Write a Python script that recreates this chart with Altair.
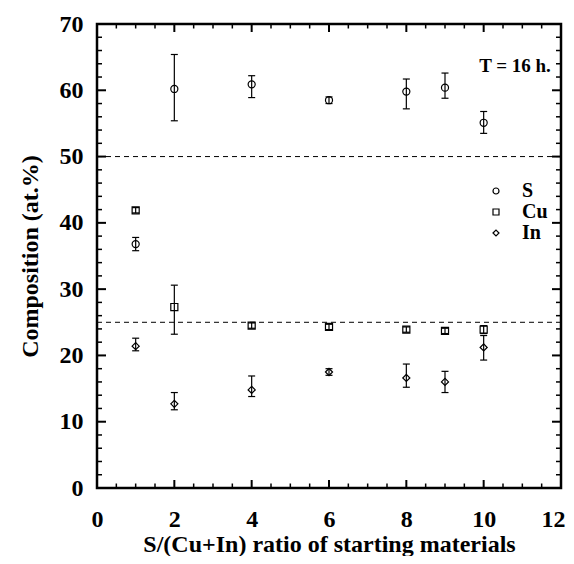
import altair as alt
import pandas as pd

ratio = [1, 2, 4, 6, 8, 9, 10]
s_val = [36.8, 60.2, 60.9, 58.5, 59.8, 60.4, 55.1]
s_lo = [35.8, 55.4, 58.9, 58.0, 57.2, 58.8, 53.5]
s_hi = [37.8, 65.4, 62.2, 59.0, 61.7, 62.6, 56.8]
cu_val = [41.9, 27.3, 24.5, 24.3, 23.9, 23.7, 23.9]
cu_lo = [41.5, 23.2, 24.1, 23.9, 23.5, 23.3, 23.3]
cu_hi = [42.3, 30.6, 24.9, 24.7, 24.3, 24.1, 24.5]
in_val = [21.4, 12.7, 14.8, 17.5, 16.6, 16.0, 21.2]
in_lo = [20.7, 11.8, 13.8, 17.0, 15.2, 14.4, 19.3]
in_hi = [22.6, 14.4, 16.9, 18.0, 18.7, 17.6, 23.0]
series_names = ["S", "Cu", "In"]
ref_levels = [25, 50]
x_major = [0, 2, 4, 6, 8, 10, 12]
x_minor = [0.5, 1, 1.5, 2.5, 3, 3.5, 4.5, 5, 5.5, 6.5, 7, 7.5, 8.5, 9, 9.5, 10.5, 11, 11.5]
y_major = [0, 10, 20, 30, 40, 50, 60, 70]
y_minor = [v for v in range(0, 71, 2) if v % 10 != 0]
annotation = "T = 16 h."

rows = []
for name, vals, los, his in [("S", s_val, s_lo, s_hi), ("Cu", cu_val, cu_lo, cu_hi), ("In", in_val, in_lo, in_hi)]:
    for x, v, lo, hi in zip(ratio, vals, los, his):
        rows.append({"series": name, "ratio": x, "val": v, "lo": lo, "hi": hi})
df = pd.DataFrame(rows)

W = 464
H = 464
FONT = "Liberation Serif"

xs = alt.Scale(domain=[0, 12], nice=False, zero=False)
ys = alt.Scale(domain=[0, 70], nice=False, zero=False)

x_axis = alt.Axis(values=x_major, format="d", ticks=False, domain=False, grid=False,
                  labelFont=FONT, labelFontSize=24, labelFontWeight="bold", labelColor="black",
                  labelPadding=19, title="S/(Cu+In) ratio of starting materials",
                  labelOffset={"condition": {"test": "datum.value == 12", "value": -8}, "value": 0},
                  titleFont=FONT, titleFontSize=24, titleFontWeight="bold", titleColor="black",
                  titlePadding=1, labelFlush=False)
y_axis = alt.Axis(values=y_major, format="d", ticks=False, domain=False, grid=False,
                  labelFont=FONT, labelFontSize=24, labelFontWeight="bold", labelColor="black",
                  labelPadding=14, title="Composition (at.%)",
                  titleFont=FONT, titleFontSize=24, titleFontWeight="bold", titleColor="black",
                  titlePadding=17, labelFlush=False)

base = alt.Chart(df)

points = base.mark_point(filled=False, size=50, strokeWidth=1.2, color="black", opacity=1).encode(
    x=alt.X("ratio:Q", scale=xs, axis=x_axis),
    y=alt.Y("val:Q", scale=ys, axis=y_axis),
    shape=alt.Shape("series:N", scale=alt.Scale(domain=series_names, range=["circle", "square", "diamond"]),
                    legend=alt.Legend(title=None, orient="none", legendX=389, legendY=157,
                                      labelFont=FONT, labelFontSize=20, labelFontWeight="bold",
                                      labelColor="black", symbolSize=36, symbolStrokeColor="black",
                                      symbolFillColor="transparent", symbolStrokeWidth=1.2,
                                      labelOffset=16, rowPadding=1, padding=0)),
)

err = base.mark_rule(strokeWidth=1.2, color="black").encode(
    x=alt.X("ratio:Q", scale=xs), y=alt.Y("lo:Q", scale=ys), y2="hi:Q")
cap_lo = base.mark_tick(orient="horizontal", size=7, thickness=1.2, color="black", opacity=1).encode(
    x=alt.X("ratio:Q", scale=xs), y=alt.Y("lo:Q", scale=ys))
cap_hi = base.mark_tick(orient="horizontal", size=7, thickness=1.2, color="black", opacity=1).encode(
    x=alt.X("ratio:Q", scale=xs), y=alt.Y("hi:Q", scale=ys))

refs = alt.Chart(pd.DataFrame({"lvl": ref_levels})).mark_rule(
    strokeWidth=1, color="black", strokeDash=[5, 4]).encode(y=alt.Y("lvl:Q", scale=ys))

def xticks(vals, length, width):
    d = alt.Chart(pd.DataFrame({"t": vals}))
    bottom = d.mark_rule(color="black", strokeWidth=width).encode(
        x=alt.X("t:Q", scale=xs), y=alt.value(H), y2=alt.value(H - length))
    top = d.mark_rule(color="black", strokeWidth=width).encode(
        x=alt.X("t:Q", scale=xs), y=alt.value(0), y2=alt.value(length))
    return [bottom, top]

def yticks(vals, length, width):
    d = alt.Chart(pd.DataFrame({"t": vals}))
    left = d.mark_rule(color="black", strokeWidth=width).encode(
        y=alt.Y("t:Q", scale=ys), x=alt.value(0), x2=alt.value(length))
    right = d.mark_rule(color="black", strokeWidth=width).encode(
        y=alt.Y("t:Q", scale=ys), x=alt.value(W), x2=alt.value(W - length))
    return [left, right]

ann = alt.Chart(pd.DataFrame({"t": [annotation]})).mark_text(
    font=FONT, fontSize=19, fontWeight="bold", color="black", align="center", baseline="middle").encode(
    text="t:N", x=alt.value(418), y=alt.value(42))

layers = [refs, err, cap_lo, cap_hi, points, ann]
layers += xticks(x_major, 8, 2) + xticks(x_minor, 4.5, 1.5)
layers += yticks(y_major, 9, 2) + yticks(y_minor, 5, 1.5)

chart = alt.layer(*layers).properties(
    width=W, height=H,
    autosize=alt.AutoSizeParams(type="none"),
    padding={"left": 89, "top": 16, "right": 5, "bottom": 68},
).configure(background="white").configure_view(stroke="black", strokeWidth=2.5)

chart.save("out.html", embed_options={"renderer": "svg", "actions": False})
